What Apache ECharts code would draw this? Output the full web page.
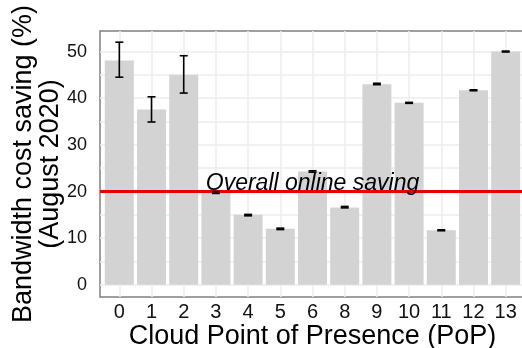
<!DOCTYPE html>
<html>
<head>
<meta charset="utf-8">
<script src="https://cdn.jsdelivr.net/npm/echarts@6/dist/echarts.min.js"></script>
<style>
  html, body { margin: 0; padding: 0; background: #ffffff; }
  #chart { width: 522px; height: 348px; }
</style>
</head>
<body>
<div id="chart"></div>
<script>
// Cloud points of presence (PoP 7 has no data)
const popLabels = ['0', '1', '2', '3', '4', '5', '6', '8', '9', '10', '11', '12', '13'];
// Mean bandwidth cost saving per PoP, August 2020 (%)
const savingMean = [48.1, 37.6, 45.0, 19.8, 15.0, 12.0, 24.3, 16.6, 43.0, 39.0, 11.7, 41.7, 50.0];
// Error-bar bounds (%)
const savingLow  = [44.5, 34.9, 41.1, 19.6, 14.8, 11.85, 24.15, 16.5, 42.9, 38.9, 11.6, 41.6, 49.9];
const savingHigh = [52.0, 40.3, 49.1, 20.0, 15.1, 12.15, 24.45, 16.8, 43.2, 39.1, 11.8, 41.8, 50.1];
// Overall online saving reference level (%)
const overallSaving = 20;
// Y tick labels and grid levels
const yTickLabels = [0, 10, 20, 30, 40, 50];
const yGridLevels = [0, 5, 10, 15, 20, 25, 30, 35, 40, 45, 50];

const positions = popLabels.map((_, i) => i);
const barData = savingMean.map((v, i) => [i, v]);
const errData = savingMean.map((_, i) => [i, savingLow[i], savingHigh[i]]);

const FONT = '"Liberation Sans", Arial, Helvetica, sans-serif';
const chart = echarts.init(document.getElementById('chart'), null, { renderer: 'canvas' });

chart.setOption({
  backgroundColor: '#ffffff',
  animation: false,
  grid: {
    left: 100, top: 31, width: 425, height: 266,
    outerBoundsMode: 'none',
    containLabel: false,
    show: true, borderColor: '#808080', borderWidth: 1.5, backgroundColor: 'transparent'
  },
  xAxis: {
    type: 'value',
    min: -0.6, max: 12.6,
    axisLine: { show: false },
    axisTick: { show: false, customValues: positions },
    axisLabel: {
      customValues: positions,
      formatter: v => popLabels[Math.round(v)],
      color: '#111', fontSize: 20, fontFamily: FONT, margin: 5
    },
    splitLine: { show: true, lineStyle: { color: '#ececec', width: 1.5 } },
    name: 'Cloud Point of Presence (PoP)',
    nameLocation: 'middle',
    nameGap: 26,
    nameMoveOverlap: false,
    nameTextStyle: { color: '#000', fontSize: 27, fontFamily: FONT }
  },
  yAxis: {
    type: 'value',
    min: -2.6, max: 54.4,
    axisLine: { show: false },
    axisTick: { show: false, customValues: yGridLevels },
    axisLabel: {
      customValues: yTickLabels,
      color: '#111', fontSize: 18, fontFamily: FONT, margin: 13
    },
    splitLine: { show: true, lineStyle: { color: '#ececec', width: 1.5 } },
    name: 'Bandwidth cost saving (%)\n(August 2020)',
    nameLocation: 'middle',
    nameRotate: 90,
    nameGap: 36,
    nameMoveOverlap: false,
    nameTextStyle: { color: '#000', fontSize: 27, fontFamily: FONT, lineHeight: 27, align: 'center' }
  },
  series: [
    {
      type: 'bar',
      data: barData,
      barWidth: 29,
      itemStyle: { color: '#d3d3d3' },
      z: 2,
      markLine: {
        silent: true,
        symbol: 'none',
        z: 5,
        lineStyle: { color: '#e60000', width: 3, type: 'solid' },
        label: {
          show: true,
          position: 'middle',
          formatter: 'Overall online saving',
          color: '#000',
          fontSize: 23,
          fontStyle: 'italic',
          fontFamily: FONT,
          distance: -4
        },
        data: [{ yAxis: overallSaving }]
      }
    },
    {
      type: 'custom',
      data: errData,
      z: 6,
      encode: { x: 0, y: [1, 2] },
      renderItem: function (params, api) {
        const x = api.value(0);
        const lo = api.coord([x, api.value(1)]);
        const hi = api.coord([x, api.value(2)]);
        const half = 4;
        const style = { stroke: '#000', lineWidth: 1.6 };
        return {
          type: 'group',
          children: [
            { type: 'line', shape: { x1: lo[0], y1: lo[1], x2: hi[0], y2: hi[1] }, style },
            { type: 'line', shape: { x1: lo[0] - half, y1: lo[1], x2: lo[0] + half, y2: lo[1] }, style },
            { type: 'line', shape: { x1: hi[0] - half, y1: hi[1], x2: hi[0] + half, y2: hi[1] }, style }
          ]
        };
      }
    }
  ]
});
</script>
</body>
</html>
